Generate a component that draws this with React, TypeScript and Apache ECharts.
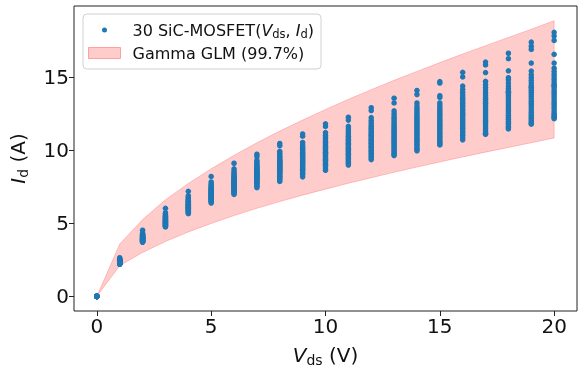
import { useEffect, useRef } from "react";
import * as echarts from "echarts";

const vdsValues = [0, 1, 2, 3, 4, 5, 6, 7, 8, 9, 10, 11, 12, 13, 14, 15, 16, 17, 18, 19, 20];

const idSamples: number[][] = [
  [0, 0, 0, 0, 0, 0, 0, 0, 0, 0, 0, 0, 0, 0, 0, 0, 0, 0, 0, 0, 0, 0, 0, 0, 0, 0, 0, 0, 0, 0],
  [2.64, 2.57, 2.55, 2.52, 2.51, 2.49, 2.47, 2.47, 2.45, 2.44, 2.42, 2.41, 2.41, 2.39, 2.38, 2.36, 2.36, 2.34, 2.33, 2.31, 2.3, 2.29, 2.28, 2.27, 2.25, 2.24, 2.23, 2.22, 2.21, 2.19],
  [4.52, 4.33, 4.28, 4.24, 4.21, 4.18, 4.15, 4.13, 4.1, 4.08, 4.06, 4.04, 4.02, 4.0, 3.98, 3.96, 3.94, 3.93, 3.91, 3.89, 3.87, 3.85, 3.84, 3.82, 3.8, 3.79, 3.77, 3.75, 3.73, 3.7],
  [6.02, 5.72, 5.64, 5.58, 5.52, 5.47, 5.43, 5.39, 5.35, 5.32, 5.28, 5.25, 5.22, 5.19, 5.16, 5.13, 5.1, 5.08, 5.05, 5.03, 5.0, 4.97, 4.94, 4.92, 4.89, 4.86, 4.84, 4.81, 4.78, 4.75],
  [7.18, 6.88, 6.8, 6.72, 6.66, 6.6, 6.55, 6.5, 6.46, 6.42, 6.38, 6.34, 6.3, 6.27, 6.23, 6.2, 6.17, 6.13, 6.1, 6.07, 6.03, 6.0, 5.97, 5.93, 5.89, 5.85, 5.8, 5.75, 5.7, 5.65],
  [8.2, 7.82, 7.7, 7.6, 7.52, 7.45, 7.38, 7.33, 7.28, 7.23, 7.19, 7.14, 7.1, 7.06, 7.02, 6.98, 6.95, 6.91, 6.88, 6.84, 6.8, 6.76, 6.72, 6.68, 6.64, 6.6, 6.55, 6.5, 6.45, 6.38],
  [9.1, 8.72, 8.58, 8.47, 8.38, 8.3, 8.22, 8.15, 8.09, 8.03, 7.97, 7.92, 7.87, 7.82, 7.78, 7.73, 7.69, 7.64, 7.6, 7.55, 7.51, 7.46, 7.41, 7.36, 7.31, 7.25, 7.19, 7.12, 7.05, 6.97],
  [9.72, 9.55, 9.3, 9.18, 9.08, 8.98, 8.9, 8.82, 8.75, 8.68, 8.62, 8.56, 8.5, 8.45, 8.4, 8.35, 8.3, 8.25, 8.2, 8.14, 8.08, 8.02, 7.96, 7.9, 7.84, 7.77, 7.7, 7.62, 7.53, 7.43],
  [10.45, 10.3, 9.92, 9.78, 9.66, 9.56, 9.47, 9.39, 9.31, 9.24, 9.17, 9.1, 9.04, 8.98, 8.92, 8.86, 8.8, 8.74, 8.68, 8.62, 8.56, 8.5, 8.43, 8.36, 8.29, 8.21, 8.13, 8.05, 7.96, 7.86],
  [11.1, 10.95, 10.52, 10.36, 10.23, 10.12, 10.02, 9.93, 9.84, 9.76, 9.68, 9.61, 9.54, 9.47, 9.4, 9.33, 9.27, 9.2, 9.13, 9.06, 8.99, 8.92, 8.85, 8.77, 8.69, 8.6, 8.51, 8.41, 8.3, 8.17],
  [11.8, 11.62, 11.2, 11.02, 10.88, 10.75, 10.64, 10.54, 10.44, 10.35, 10.26, 10.18, 10.1, 10.02, 9.94, 9.86, 9.78, 9.7, 9.62, 9.54, 9.46, 9.38, 9.3, 9.21, 9.12, 9.03, 8.94, 8.84, 8.73, 8.62],
  [12.25, 12.05, 11.62, 11.45, 11.3, 11.17, 11.05, 10.94, 10.84, 10.74, 10.65, 10.56, 10.47, 10.38, 10.3, 10.21, 10.13, 10.04, 9.96, 9.88, 9.79, 9.7, 9.61, 9.52, 9.43, 9.34, 9.25, 9.16, 9.07, 8.98],
  [12.9, 12.7, 12.22, 12.04, 11.88, 11.74, 11.62, 11.5, 11.39, 11.29, 11.19, 11.09, 11.0, 10.91, 10.82, 10.73, 10.64, 10.55, 10.46, 10.37, 10.27, 10.18, 10.08, 9.98, 9.88, 9.78, 9.68, 9.57, 9.46, 9.35],
  [13.55, 13.22, 12.68, 12.5, 12.33, 12.18, 12.05, 11.92, 11.8, 11.68, 11.57, 11.46, 11.36, 11.26, 11.16, 11.06, 10.96, 10.86, 10.76, 10.66, 10.56, 10.46, 10.36, 10.26, 10.15, 10.04, 9.93, 9.82, 9.72, 9.63],
  [14.08, 13.8, 13.22, 13.03, 12.86, 12.7, 12.56, 12.43, 12.3, 12.18, 12.06, 11.95, 11.84, 11.73, 11.62, 11.51, 11.4, 11.29, 11.18, 11.07, 10.96, 10.85, 10.74, 10.63, 10.52, 10.4, 10.28, 10.16, 10.05, 9.95],
  [14.68, 14.58, 13.72, 13.6, 13.22, 13.05, 12.9, 12.76, 12.63, 12.5, 12.38, 12.26, 12.14, 12.03, 11.92, 11.81, 11.7, 11.59, 11.48, 11.37, 11.26, 11.15, 11.04, 10.93, 10.82, 10.71, 10.6, 10.5, 10.42, 10.35],
  [15.32, 15.0, 14.38, 14.15, 13.95, 13.78, 13.62, 13.47, 13.33, 13.2, 13.07, 12.94, 12.81, 12.69, 12.57, 12.45, 12.33, 12.21, 12.09, 11.97, 11.85, 11.73, 11.61, 11.49, 11.37, 11.25, 11.12, 10.99, 10.85, 10.7],
  [16.02, 15.82, 15.3, 14.7, 14.48, 14.28, 14.1, 13.93, 13.77, 13.62, 13.48, 13.34, 13.2, 13.07, 12.94, 12.81, 12.68, 12.55, 12.42, 12.29, 12.16, 12.03, 11.9, 11.77, 11.64, 11.51, 11.38, 11.25, 11.15, 11.08],
  [16.62, 16.25, 15.42, 14.95, 14.8, 14.58, 14.38, 14.2, 14.03, 13.95, 13.87, 13.72, 13.57, 13.43, 13.29, 13.15, 13.01, 12.88, 12.75, 12.62, 12.49, 12.36, 12.23, 12.1, 11.97, 11.84, 11.71, 11.6, 11.52, 11.45],
  [17.38, 17.1, 16.88, 15.95, 15.4, 15.15, 14.95, 14.76, 14.58, 14.41, 14.3, 14.25, 14.09, 13.94, 13.79, 13.64, 13.49, 13.34, 13.19, 13.04, 12.89, 12.74, 12.59, 12.44, 12.3, 12.17, 12.05, 11.94, 11.84, 11.77],
  [18.05, 17.8, 17.5, 16.55, 15.95, 15.6, 15.38, 15.18, 15.0, 14.83, 14.66, 14.5, 14.4, 14.34, 14.18, 14.02, 13.87, 13.72, 13.57, 13.42, 13.27, 13.12, 12.97, 12.82, 12.67, 12.52, 12.4, 12.3, 12.22, 12.15],
];

const bandLower = [0, 2.1, 3.0, 3.75, 4.4, 4.98, 5.52, 6.02, 6.48, 6.92, 7.33, 7.73, 8.11, 8.48, 8.84, 9.19, 9.53, 9.86, 10.18, 10.5, 10.83];
const bandUpper = [0, 3.58, 5.25, 6.6, 7.72, 8.72, 9.64, 10.5, 11.3, 12.05, 12.78, 13.47, 14.13, 14.77, 15.38, 15.98, 16.57, 17.14, 17.7, 18.26, 18.85];

const xTicks = [0, 5, 10, 15, 20];
const yTicks = [0, 5, 10, 15];

const scatterName = "30 SiC-MOSFET(Vds, Id)";
const bandName = "Gamma GLM (99.7%)";

export default function App() {
  const ref = useRef<HTMLDivElement>(null);

  useEffect(() => {
    const chart = echarts.init(ref.current!, null, { renderer: "svg" });
    const font = "DejaVu Sans";
    const ink = "#111";
    const bandColor = "rgba(255,0,0,0.2)";

    const points = vdsValues.flatMap((v, i) => idSamples[i].map((y) => [v, y]));
    const bandData = vdsValues.map((v, i) => [v, bandLower[i], bandUpper[i]]);

    const legendRich = {
      n: { fontFamily: font, fontSize: 16, color: ink, lineHeight: 20 },
      i: { fontFamily: font, fontSize: 16, fontStyle: "italic", color: ink, lineHeight: 20 },
      s: { fontFamily: font, fontSize: 11.5, color: ink, lineHeight: 14, verticalAlign: "bottom" },
    };
    const nameRich = {
      n: { fontFamily: font, fontSize: 20, color: ink, lineHeight: 24 },
      i: { fontFamily: font, fontSize: 20, fontStyle: "italic", color: ink, lineHeight: 24 },
      s: { fontFamily: font, fontSize: 14, color: ink, lineHeight: 15, verticalAlign: "bottom" },
    };

    chart.setOption({
      animation: false,
      grid: {
        left: 73,
        right: 3,
        top: 6,
        bottom: 60,
        show: true,
        borderColor: "#222",
        borderWidth: 1,
        backgroundColor: "transparent",
      },
      legend: {
        left: 83,
        top: 14,
        orient: "vertical",
        selectedMode: false,
        itemWidth: 32,
        itemHeight: 11,
        itemGap: 5,
        padding: [8, 7, 8, 5],
        backgroundColor: "rgba(255,255,255,0.85)",
        borderColor: "#d0d0d0",
        borderWidth: 1,
        borderRadius: 4,
        textStyle: { fontFamily: font, fontSize: 16, color: ink, padding: [0, 0, 0, 7], rich: legendRich },
        formatter: (name: string) =>
          name === scatterName
            ? "{n|30 SiC-MOSFET(}{i|V}{s|ds}{n|, }{i|I}{s|d}{n|)}"
            : "{n|" + name + "}",
        data: [
          {
            name: scatterName,
            icon: "path://M0,0M32,11M13.5,5.5A2.5,2.5,0,1,0,18.5,5.5A2.5,2.5,0,1,0,13.5,5.5Z",
            itemStyle: { color: "#1f77b4" },
          },
          {
            name: bandName,
            icon: "rect",
            itemStyle: { color: bandColor, borderColor: "rgba(255,0,0,0.3)", borderWidth: 1 },
          },
        ],
      },
      xAxis: {
        type: "value",
        min: -1,
        max: 21,
        name: "{i|V}{s|ds}{n| (V)}",
        nameLocation: "middle",
        nameGap: 32,
        nameTextStyle: { rich: nameRich },
        axisLine: { show: false, onZero: false },
        axisTick: { show: true, length: 5, customValues: xTicks, lineStyle: { color: "#222" } },
        axisLabel: { customValues: xTicks, fontFamily: font, fontSize: 20, color: ink, margin: 5 },
        splitLine: { show: false },
      },
      yAxis: {
        type: "value",
        min: -1.0,
        max: 19.85,
        name: "{i|I}{s|d}{n| (A)}",
        nameLocation: "middle",
        nameGap: 44,
        nameRotate: 90,
        nameTextStyle: { rich: nameRich },
        axisLine: { show: false, onZero: false },
        axisTick: { show: true, length: 5, customValues: yTicks, lineStyle: { color: "#222" } },
        axisLabel: { customValues: yTicks, fontFamily: font, fontSize: 20, color: ink, margin: 5 },
        splitLine: { show: false },
      },
      series: [
        {
          name: bandName,
          type: "custom",
          data: bandData,
          itemStyle: { color: bandColor },
          encode: { x: 0, y: [1, 2] },
          z: 1,
          renderItem: (params: any, api: any) => {
            if (params.dataIndex !== 0) return null;
            const top = bandData.map((d) => api.coord([d[0], d[2]]));
            const bottom = bandData.map((d) => api.coord([d[0], d[1]])).reverse();
            return {
              type: "polygon",
              shape: { points: top.concat(bottom) },
              style: { fill: bandColor, stroke: bandColor, lineWidth: 1 },
              silent: true,
            };
          },
        },
        {
          name: scatterName,
          type: "scatter",
          data: points,
          symbol: "circle",
          symbolSize: 5.5,
          itemStyle: { color: "#1f77b4", opacity: 1 },
          z: 3,
        },
      ],
    });

    return () => {
      chart.dispose();
    };
  }, []);

  return (
    <div
      ref={ref}
      style={{ position: "fixed", left: 0, top: 0, width: 580, height: 372 }}
    />
  );
}
